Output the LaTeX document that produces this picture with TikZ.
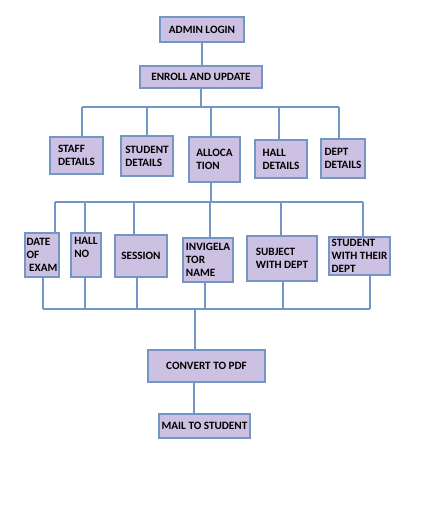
\documentclass[tikz,border=0pt]{standalone}
\usepackage{fontspec}
\setmainfont{Carlito}
\usepackage{xcolor}
\definecolor{boxfill}{HTML}{CCC1E2}
\definecolor{boxline}{HTML}{7396C4}

\begin{document}
\begin{tikzpicture}[x=1pt,y=-1pt,
    blk/.style={draw=boxline,fill=boxfill,line width=1.6pt,inner sep=2pt,
      align=left,font=\fontsize{11.2}{13}\selectfont\bfseries},
    link/.style={draw=boxline,line width=1.7pt}]
    \useasboundingbox (0,0) rectangle (434,515);

    % top of the chart
    \node[blk,minimum width=84pt,minimum height=25pt] (admin) at (202,29.5) {ADMIN LOGIN};
    \node[blk,minimum width=122pt,minimum height=22pt] (enroll) at (201,77) {ENROLL AND UPDATE};

    % second row
    \node[blk,minimum width=53pt,minimum height=37pt] (staff) at (76.5,155.5) {STAFF\\DETAILS};
    \node[blk,minimum width=52pt,minimum height=40pt] (student) at (147,156) {STUDENT\\DETAILS};
    \node[blk,minimum width=51pt,minimum height=45pt] (alloc) at (214.5,159.5) {ALLOCA\\TION};
    \node[blk,minimum width=52pt,minimum height=38pt] (hall) at (281,159) {HALL\\DETAILS};
    \node[blk,minimum width=44pt,minimum height=39pt] (dept) at (343,158.5) {DEPT\\DETAILS};

    % third row
    \node[blk,minimum width=34pt,minimum height=44pt,inner sep=1pt] (date) at (42,255) {DATE\\OF\\\ EXAM};
    \node[blk,minimum width=30pt,minimum height=44pt,inner sep=1pt] (hallno) at (86,255) {HALL\\NO\\[3pt]};
    \node[blk,minimum width=52pt,minimum height=42pt] (session) at (141,256) {SESSION};
    \node[blk,minimum width=50pt,minimum height=44pt,inner sep=1pt] (invig) at (208,260) {INVIGELA\\TOR\\NAME};
    \node[blk,minimum width=70pt,minimum height=45pt] (subject) at (282,258.5) {SUBJECT\\WITH DEPT};
    \node[blk,minimum width=61pt,minimum height=38pt,inner sep=1pt] (stdept) at (359.5,256) {STUDENT\\WITH THEIR\\DEPT};

    % bottom of the chart
    \node[blk,minimum width=117pt,minimum height=32pt] (pdf) at (206.5,366) {CONVERT TO PDF};
    \node[blk,minimum width=91pt,minimum height=24pt] (mail) at (204.5,426) {MAIL TO STUDENT};

    \draw[link] (admin.south) -- (admin.south |- enroll.north);

    % first bus
    \coordinate (busa) at (201,107);
    \draw[link] (enroll.south) -- (busa);
    \draw[link] (82,107) -- (339,107);
    \foreach \n/\x in {staff/82,student/147,alloc/211,hall/279,dept/339} {
      \coordinate (t\n) at (\x,107);
      \draw[link] (t\n) -- (t\n |- \n.north);
    }

    % second bus
    \coordinate (busb) at (211,202);
    \draw[link] (busb |- alloc.south) -- (busb);
    \draw[link] (55,202) -- (363,202);
    \foreach \n/\x in {date/55,hallno/85,session/134,invig/210,subject/281,stdept/363} {
      \coordinate (t\n) at (\x,202);
      \draw[link] (t\n) -- (t\n |- \n.north);
    }

    % third bus
    \draw[link] (43,309) -- (370,309);
    \foreach \n/\x in {date/43,hallno/85,session/137,invig/205,subject/283,stdept/370} {
      \coordinate (u\n) at (\x,309);
      \draw[link] (u\n |- \n.south) -- (u\n);
    }
    \coordinate (busc) at (195,309);
    \draw[link] (busc) -- (busc |- pdf.north);
    \draw[link] (pdf.south -| 194,0) -- (mail.north -| 194,0);
  \end{tikzpicture}
\end{document}
